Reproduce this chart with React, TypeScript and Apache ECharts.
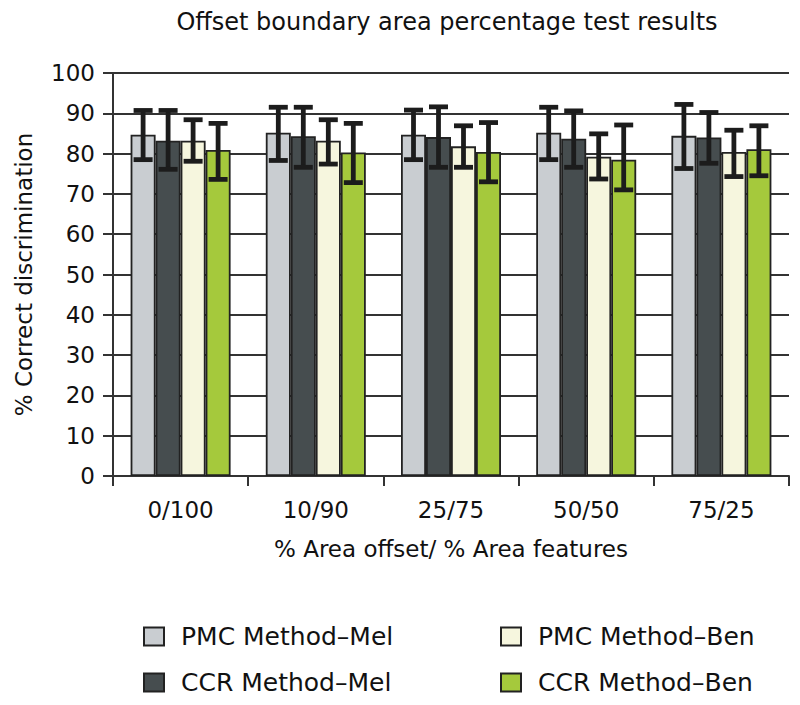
import React, { useEffect, useRef } from "react";
import * as echarts from "echarts";

const categories = ["0/100", "10/90", "25/75", "50/50", "75/25"];
const seriesNames = [
  "PMC Method\u2013Mel",
  "CCR Method\u2013Mel",
  "PMC Method\u2013Ben",
  "CCR Method\u2013Ben",
];
const pmcMel = [84.7, 85.2, 84.7, 85.2, 84.4];
const pmcMelLow = [78.5, 78.3, 78.5, 78.5, 76.3];
const pmcMelHigh = [90.7, 91.5, 90.8, 91.5, 92.2];
const ccrMel = [83.2, 84.3, 84.1, 83.7, 84.0];
const ccrMelLow = [76.1, 76.6, 76.6, 76.6, 77.6];
const ccrMelHigh = [90.7, 91.5, 91.6, 90.6, 90.2];
const pmcBen = [83.2, 83.2, 81.8, 79.2, 80.4];
const pmcBenLow = [78.1, 77.4, 76.6, 73.7, 74.3];
const pmcBenHigh = [88.4, 88.4, 86.9, 84.9, 85.8];
const ccrBen = [80.9, 80.3, 80.4, 78.5, 81.1];
const ccrBenLow = [73.6, 72.8, 73.0, 71.0, 74.5];
const ccrBenHigh = [87.5, 87.5, 87.7, 87.1, 86.9];

const colors = ["#c9cdd1", "#464d4f", "#f6f6de", "#a5c93c"];
const FONT = "DejaVu Sans";
const BAR_W = 25;

export default function App() {
  const ref = useRef<HTMLDivElement>(null);
  useEffect(() => {
    document.body.style.margin = "0";
    if (!ref.current) return;
    const chart = echarts.init(ref.current, undefined, { renderer: "svg" });
    const values = [pmcMel, ccrMel, pmcBen, ccrBen];
    const lows = [pmcMelLow, ccrMelLow, pmcBenLow, ccrBenLow];
    const highs = [pmcMelHigh, ccrMelHigh, pmcBenHigh, ccrBenHigh];

    const barSeries = values.map((v, i) => ({
      name: seriesNames[i],
      type: "bar",
      data: v,
      barWidth: BAR_W,
      barGap: "0%",
      itemStyle: { color: colors[i], borderColor: "#222", borderWidth: 1.8 },
      z: 2,
    }));

    const errSeries = values.map((v, i) => ({
      name: seriesNames[i] + " err",
      type: "custom",
      z: 5,
      data: categories.map((c, k) => [k, lows[i][k], highs[i][k]]),
      encode: { x: 0, y: [1, 2] },
      renderItem: (params: any, api: any) => {
        const k = api.value(0);
        const off = (i - 1.5) * BAR_W;
        const x = api.coord([k, 0])[0] + off;
        const yH = api.coord([k, api.value(2)])[1];
        const yL = api.coord([k, api.value(1)])[1];
        const half = 9.5;
        const st = { stroke: "#1c1c1c", lineWidth: 4.8 };
        return {
          type: "group",
          children: [
            { type: "line", shape: { x1: x, y1: yH, x2: x, y2: yL }, style: st },
            { type: "line", shape: { x1: x - half, y1: yH, x2: x + half, y2: yH }, style: st },
            { type: "line", shape: { x1: x - half, y1: yL, x2: x + half, y2: yL }, style: st },
          ],
        };
      },
    }));

    const legendCommon = {
      orient: "vertical",
      top: 624,
      padding: 0,
      itemWidth: 20,
      itemHeight: 18,
      itemGap: 21,
      icon: "rect",
      textStyle: {
        fontFamily: FONT,
        fontSize: 25,
        color: "#111",
        lineHeight: 25,
        padding: [0, 0, 0, 12],
      },
    };

    chart.setOption({
      animation: false,
      backgroundColor: "#fff",
      textStyle: { fontFamily: FONT },
      graphic: [
        {
          type: "text",
          x: 447,
          y: 22,
          style: {
            text: "Offset boundary area percentage test results",
            fontFamily: FONT,
            fontSize: 24,
            fill: "#111",
            textAlign: "center",
            textVerticalAlign: "middle",
          },
        },
      ],
      legend: [
        { ...legendCommon, left: 143, data: [seriesNames[0], seriesNames[1]] },
        { ...legendCommon, left: 500, data: [seriesNames[2], seriesNames[3]] },
      ],
      grid: { left: 113, right: 11, top: 73, bottom: 229, containLabel: false },
      xAxis: {
        type: "category",
        data: categories,
        name: "% Area offset/ % Area features",
        nameLocation: "middle",
        nameGap: 61,
        nameTextStyle: { fontFamily: FONT, fontSize: 23, color: "#111" },
        axisLine: { show: true, lineStyle: { color: "#333", width: 2 } },
        axisTick: { show: true, length: 10, lineStyle: { color: "#333", width: 2 } },
        axisLabel: { fontFamily: FONT, fontSize: 23, color: "#111", margin: 22 },
      },
      yAxis: {
        type: "value",
        min: 0,
        max: 100,
        interval: 10,
        name: "% Correct discrimination",
        nameLocation: "middle",
        nameGap: 78,
        nameTextStyle: { fontFamily: FONT, fontSize: 23, color: "#111" },
        axisLine: { show: true, lineStyle: { color: "#333", width: 2 } },
        axisTick: { show: true, length: 10, lineStyle: { color: "#333", width: 2 } },
        axisLabel: { fontFamily: FONT, fontSize: 23, color: "#111", margin: 18 },
        splitLine: { show: true, lineStyle: { color: "#333", width: 1.8 } },
      },
      series: [...barSeries, ...errSeries],
    });
    return () => chart.dispose();
  }, []);
  return <div ref={ref} style={{ width: 800, height: 705 }} />;
}
